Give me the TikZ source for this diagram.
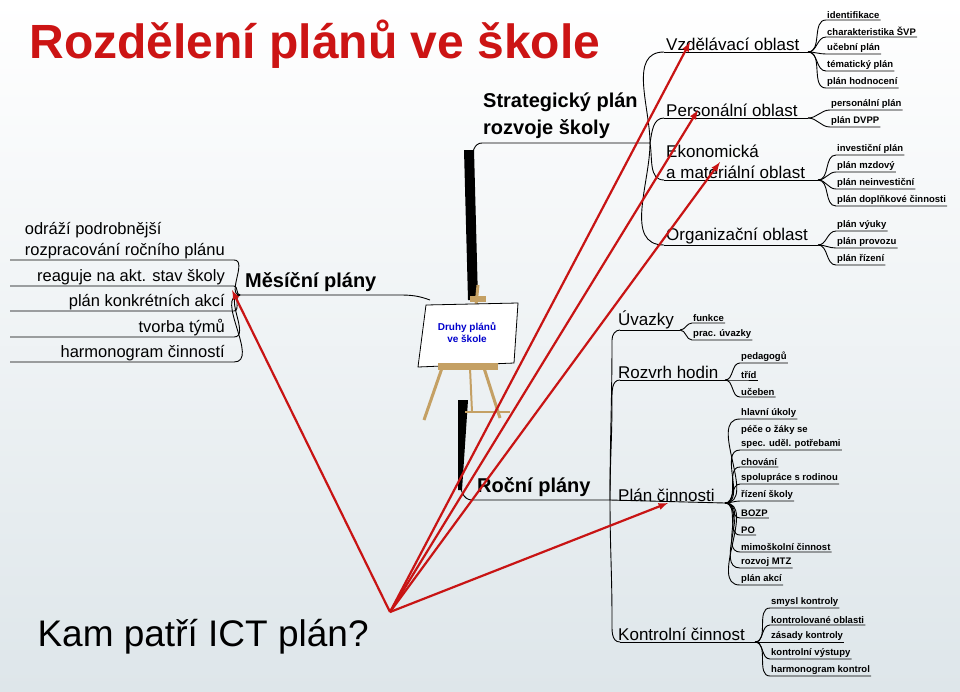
\documentclass[tikz,border=0pt]{standalone}
\usepackage{fontspec}
\setmainfont{Liberation Sans}
\usetikzlibrary{calc}
\definecolor{titlered}{RGB}{204,20,20}
\definecolor{arrowred}{RGB}{200,20,20}
\definecolor{wood}{RGB}{196,160,100}
\definecolor{bgbottom}{RGB}{222,230,234}
\tikzset{
  branch/.style={anchor=south west, inner sep=1pt, font=\fontsize{17}{21}\selectfont},
  leaf/.style={anchor=south west, inner sep=1pt, font=\fontsize{9.5}{14}\selectfont\bfseries},
  bigbranch/.style={anchor=south west, inner sep=1pt, font=\fontsize{20}{27}\selectfont\bfseries},
  twig/.style={draw, line width=0.9pt},
  pointer/.style={draw=arrowred, line width=2.2pt, -latex}
}

\begin{document}
\begin{tikzpicture}[x=1pt, y=-1pt]
  \shade[top color=white, bottom color=bgbottom] (0,0) rectangle (960,691);
  \useasboundingbox (0,0) rectangle (960,691);

  % titles
  \node[anchor=west, text=titlered, font=\fontsize{48}{52}\selectfont\bfseries] (title) at (26,44) {Rozdělení plánů ve škole};
  \node[anchor=west, font=\fontsize{37}{40}\selectfont] (question) at (34,637) {Kam patří ICT plán?};

  % easel
  \fill[black] (464,150) -- (474,150) -- (478,300) -- (468,300) -- cycle;
  \fill[black] (458,400) -- (468,400) -- (462,490) -- (458,490) -- cycle;
  \draw[wood, line width=3pt] (442,368) -- (424,420);
  \draw[wood, line width=3pt] (484,368) -- (500,418);
  \draw[wood, line width=2pt] (470,368) -- (472,412);
  \draw[wood, line width=2pt] (465,412) -- (510,412);
  \draw[wood, line width=3pt] (478,285) -- (476,305);
  \fill[wood] (470,296) rectangle (486,302);
  \draw[fill=white, line width=0.8pt] (426,305) -- (518,303) -- (514,363) -- (418,367) -- cycle;
  \fill[wood] (438,363) rectangle (498,370);
  \node[text=blue!80!black, font=\fontsize{10}{12}\selectfont\bfseries\rmfamily, align=center] (board) at (467,333) {Druhy plánů\\ve škole};

  % strategic plan
  \node[bigbranch, align=left] (strat) at (482,140) {Strategický plán\\rozvoje školy};
  \draw[twig] (472,160) to[out=90,in=180] (482,143) -- (650,143);
  \coordinate (sroot) at (650,143);
  \draw[twig] (sroot) to[out=90,in=180] (664,52);
  \draw[twig] (sroot) to[out=80,in=180] (664,118);
  \draw[twig] (sroot) to[out=-80,in=180] (664,180);
  \draw[twig] (sroot) to[out=-90,in=180] (664,245);
  \node[branch] (vzd) at (665,52) {Vzdělávací oblast};
  \node[branch] (per) at (665,118) {Personální oblast};
  \node[branch, align=left] (eko) at (665,180) {Ekonomická\\a materiální oblast};
  \node[branch] (org) at (665,245) {Organizační oblast};
  \draw[twig] (664,52) -- (808,52);
  \draw[twig] (664,118) -- (808,118);
  \draw[twig] (664,180) -- (818,180);
  \draw[twig] (664,245) -- (818,245);

  \foreach \t [count=\i] in {identifikace, charakteristika ŠVP, učební plán, tématický plán, plán hodnocení}
    {\node[leaf] (vzd\i) at (826,3+17*\i) {\t};
     \draw[twig] (808,52) to[out=0,in=180] (vzd\i.south west) -- (vzd\i.south east);}
  \foreach \t [count=\i] in {personální plán, plán DVPP}
    {\node[leaf] (per\i) at (830,93+17*\i) {\t};
     \draw[twig] (808,118) to[out=0,in=180] (per\i.south west) -- (per\i.south east);}
  \foreach \t [count=\i] in {investiční plán, plán mzdový, plán neinvestiční, plán doplňkové činnosti}
    {\node[leaf] (eko\i) at (836,138+17*\i) {\t};
     \draw[twig] (818,180) to[out=0,in=180] (eko\i.south west) -- (eko\i.south east);}
  \foreach \t [count=\i] in {plán výuky, plán provozu, plán řízení}
    {\node[leaf] (org\i) at (836,214+17*\i) {\t};
     \draw[twig] (818,245) to[out=0,in=180] (org\i.south west) -- (org\i.south east);}

  % monthly plans
  \node[bigbranch] (mes) at (244,293) {Měsíční plány};
  \draw[twig] (430,300) to[out=160,in=0] (400,295) -- (240,295);
  \foreach \t/\y [count=\i] in {{odráží podrobnější\\rozpracování ročního plánu}/260, reaguje na akt. stav školy/286, plán konkrétních akcí/311, tvorba týmů/337, harmonogram činností/362}
    {\node[anchor=south east, align=left, inner sep=1pt, font=\fontsize{16.5}{21}\selectfont] (mes\i) at (226,\y) {\t};
     \draw[twig] (240,295) to[out=180,in=0] (234,\y) -- (10,\y);}

  % annual plans
  \node[bigbranch] (roc) at (476,498) {Roční plány};
  \draw[twig] (460,480) to[out=-90,in=180] (472,500) -- (610,500);
  \coordinate (rroot) at (610,500);
  \draw[twig] (rroot) to[out=90,in=-90] (612,340) to[out=90,in=180] (620,330);
  \draw[twig] (rroot) to[out=90,in=-90] (612,400) to[out=90,in=180] (620,380);
  \draw[twig] (rroot) to[out=-90,in=90] (612,620) to[out=-90,in=180] (620,642);
  \node[branch] (uva) at (617,330) {Úvazky};
  \node[branch] (roz) at (617,380) {Rozvrh hodin};
  \node[branch] (cin) at (617,503) {Plán činnosti};
  \node[branch] (kon) at (617,642) {Kontrolní činnost};
  \draw[twig] (620,330) -- (680,330);
  \draw[twig] (620,380) -- (725,380);
  \draw[twig] (rroot) -- (725,503);
  \draw[twig] (620,642) -- (755,642);

  \foreach \t [count=\i] in {funkce, prac. úvazky}
    {\node[leaf] (uva\i) at (692,306+17*\i) {\t};
     \draw[twig] (680,330) to[out=0,in=180] (uva\i.south west) -- (uva\i.south east);}
  \foreach \t [count=\i] in {pedagogů, tříd, učeben}
    {\node[leaf] (roz\i) at (740,346+17*\i) {\t};
     \draw[twig] (725,380) to[out=0,in=180] (roz\i.south west) -- (roz\i.south east);}
  \foreach \t/\y [count=\i] in {hlavní úkoly/419, {péče o žáky se\\spec. uděl. potřebami}/450, chování/467, spolupráce s rodinou/484, řízení školy/501, BOZP/518, PO/535, mimoškolní činnost/552, rozvoj MTZ/568, plán akcí/585}
    {\node[leaf, align=left] (cin\i) at (740,\y) {\t};
     \draw[twig] (725,503) to[out=0,in=180] (cin\i.south west) -- (cin\i.south east);}
  \foreach \t [count=\i] in {smysl kontroly, kontrolované oblasti, zásady kontroly, kontrolní výstupy, harmonogram kontrol}
    {\node[leaf] (kon\i) at (770,591+17*\i) {\t};
     \draw[twig] (755,642) to[out=0,in=180] (kon\i.south west) -- (kon\i.south east);}

  % question arrows
  \coordinate (ict) at (390,612);
  \draw[pointer] (ict) -- (232,290);
  \draw[pointer] (ict) -- (690,42);
  \draw[pointer] (ict) -- (698,110);
  \draw[pointer] (ict) -- (720,162);
  \draw[pointer] (ict) -- (668,503);
\end{tikzpicture}
\end{document}
